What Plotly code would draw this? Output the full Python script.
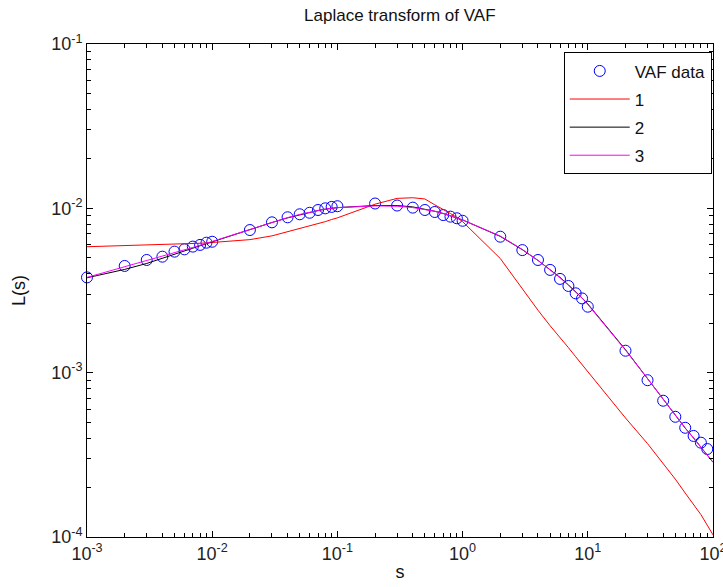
import plotly.graph_objects as go

s_vals = [0.001, 0.002, 0.003, 0.004, 0.005, 0.006, 0.007, 0.008, 0.009,
          0.01, 0.02, 0.03, 0.04, 0.05, 0.06, 0.07, 0.08, 0.09,
          0.1, 0.2, 0.3, 0.4, 0.5, 0.6, 0.7, 0.8, 0.9,
          1, 2, 3, 4, 5, 6, 7, 8, 9,
          10, 20, 30, 40, 50, 60, 70, 80, 90]

vaf_data = [3.80e-3, 4.46e-3, 4.85e-3, 5.08e-3, 5.45e-3, 5.63e-3, 5.85e-3, 5.99e-3, 6.18e-3,
            6.26e-3, 7.38e-3, 8.22e-3, 8.82e-3, 9.20e-3, 9.40e-3, 9.77e-3, 1.00e-2, 1.02e-2,
            1.03e-2, 1.07e-2, 1.04e-2, 1.01e-2, 9.77e-3, 9.50e-3, 9.10e-3, 8.90e-3, 8.70e-3,
            8.40e-3, 6.72e-3, 5.57e-3, 4.85e-3, 4.22e-3, 3.72e-3, 3.37e-3, 3.04e-3, 2.83e-3,
            2.52e-3, 1.36e-3, 9.0e-4, 6.75e-4, 5.39e-4, 4.62e-4, 4.12e-4, 3.75e-4, 3.43e-4]

s_fit = s_vals + [100]

fit1 = [5.84e-3, 5.92e-3, 5.96e-3, 6.00e-3, 6.04e-3, 6.07e-3, 6.10e-3, 6.13e-3, 6.16e-3,
        6.20e-3, 6.45e-3, 6.80e-3, 7.20e-3, 7.50e-3, 7.80e-3, 8.05e-3, 8.30e-3, 8.55e-3,
        8.75e-3, 1.06e-2, 1.15e-2, 1.16e-2, 1.14e-2, 1.05e-2, 9.90e-3, 9.30e-3, 8.80e-3,
        8.30e-3, 4.95e-3, 3.22e-3, 2.40e-3, 1.93e-3, 1.62e-3, 1.42e-3, 1.25e-3, 1.12e-3,
        1.01e-3, 5.30e-4, 3.70e-4, 2.80e-4, 2.25e-4, 1.85e-4, 1.58e-4, 1.37e-4, 1.18e-4, 1.03e-4]

fit2 = [3.78e-3, 4.25e-3, 4.62e-3, 4.95e-3, 5.25e-3, 5.50e-3, 5.72e-3, 5.92e-3, 6.10e-3,
        6.25e-3, 7.40e-3, 8.20e-3, 8.75e-3, 9.15e-3, 9.45e-3, 9.70e-3, 9.88e-3, 1.00e-2,
        1.01e-2, 1.04e-2, 1.04e-2, 1.02e-2, 9.90e-3, 9.60e-3, 9.30e-3, 9.00e-3, 8.75e-3,
        8.50e-3, 6.75e-3, 5.60e-3, 4.82e-3, 4.25e-3, 3.80e-3, 3.42e-3, 3.12e-3, 2.85e-3,
        2.62e-3, 1.38e-3, 9.2e-4, 6.9e-4, 5.5e-4, 4.6e-4, 4.0e-4, 3.5e-4, 3.15e-4, 2.85e-4]

fit3 = [3.80e-3, 4.40e-3, 4.78e-3, 5.08e-3, 5.35e-3, 5.58e-3, 5.78e-3, 5.96e-3, 6.13e-3,
        6.28e-3, 7.45e-3, 8.22e-3, 8.78e-3, 9.18e-3, 9.48e-3, 9.72e-3, 9.90e-3, 1.00e-2,
        1.01e-2, 1.035e-2, 1.03e-2, 1.01e-2, 9.85e-3, 9.60e-3, 9.30e-3, 9.02e-3, 8.76e-3,
        8.50e-3, 6.78e-3, 5.62e-3, 4.82e-3, 4.24e-3, 3.78e-3, 3.40e-3, 3.10e-3, 2.84e-3,
        2.60e-3, 1.37e-3, 9.2e-4, 6.9e-4, 5.5e-4, 4.6e-4, 4.0e-4, 3.5e-4, 3.15e-4, 2.85e-4]

x_tickvals = [0.001, 0.01, 0.1, 1, 10, 100]
x_ticktext = ["10<sup>-3</sup>", "10<sup>-2</sup>", "10<sup>-1</sup>",
              "10<sup>0</sup>", "10<sup>1</sup>", "10<sup>2</sup>"]
y_tickvals = [0.0001, 0.001, 0.01, 0.1]
y_ticktext = ["10<sup>-4</sup>", "10<sup>-3</sup>", "10<sup>-2</sup>", "10<sup>-1</sup>"]
minor_digits = [2, 3, 4, 5, 6, 7, 8, 9]
x_minor = [d * 10.0 ** e for e in range(-3, 2) for d in minor_digits]
y_minor = [d * 10.0 ** e for e in range(-4, -1) for d in minor_digits]

FONT = "Liberation Sans, Arial"

fig = go.Figure()
fig.add_trace(go.Scatter(x=s_vals, y=vaf_data, mode="markers", name="VAF data",
                         legendgroup="a", cliponaxis=False,
                         marker=dict(symbol="circle-open", size=11, color="#0000ff",
                                     line=dict(width=1, color="#0000ff"))))
fig.add_trace(go.Scatter(x=s_fit, y=fit1, mode="lines", name="1", legendgroup="b",
                         line=dict(color="#ff0000", width=1)))
fig.add_trace(go.Scatter(x=s_fit, y=fit2, mode="lines", name="2", legendgroup="c",
                         line=dict(color="#000000", width=1)))
fig.add_trace(go.Scatter(x=s_fit, y=fit3, mode="lines", name="3", legendgroup="d",
                         line=dict(color="#ff00ff", width=1)))

axis_common = dict(
    type="log", showgrid=False, zeroline=False, automargin=False,
    showline=True, linecolor="black", linewidth=1, mirror="ticks",
    ticks="inside", ticklen=6, tickcolor="black", tickmode="array",
    ticklabeloverflow="allow",
    tickfont=dict(family=FONT, size=18, color="#222222"),
)

fig.update_xaxes(range=[-3, 2], tickvals=x_tickvals, ticktext=x_ticktext,
                 minor=dict(tickmode="array", tickvals=x_minor, ticks="inside",
                            ticklen=4, tickcolor="black", showgrid=False),
                 title=dict(text="s", font=dict(family=FONT, size=18, color="#111111"), standoff=2),
                 **axis_common)
fig.update_yaxes(range=[-4, -1], tickvals=y_tickvals, ticktext=y_ticktext,
                 minor=dict(tickmode="array", tickvals=y_minor, ticks="inside",
                            ticklen=4, tickcolor="black", showgrid=False),
                 title=dict(text="L(s)", font=dict(family=FONT, size=18, color="#111111"), standoff=20),
                 **axis_common)

fig.update_layout(
    width=723, height=587,
    margin=dict(l=87, r=10, t=44, b=50),
    paper_bgcolor="white", plot_bgcolor="white",
    title=dict(text="Laplace transform of VAF", x=0.553, xanchor="center",
               y=0.985, yanchor="top", font=dict(family=FONT, size=17, color="#111111")),
    legend=dict(x=0.998, y=0.983, xanchor="right", yanchor="top",
                bordercolor="black", borderwidth=1, bgcolor="white",
                font=dict(family=FONT, size=17, color="#111111"),
                tracegroupgap=3, itemwidth=60),
    showlegend=True,
)

fig.write_html("out.html")
